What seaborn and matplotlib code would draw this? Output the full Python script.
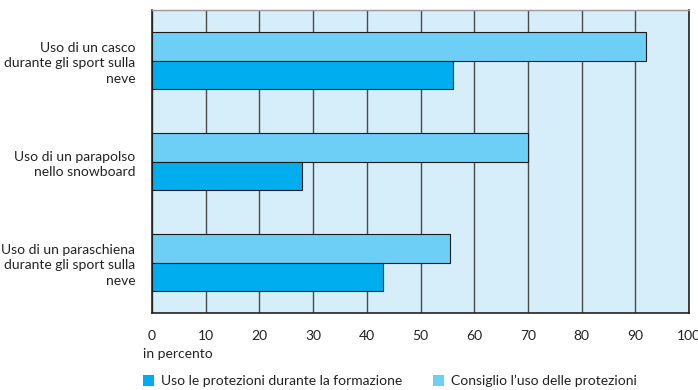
import matplotlib
matplotlib.use("Agg")
import matplotlib.pyplot as plt
import matplotlib.transforms as mtransforms
from matplotlib.patches import Patch
import seaborn as sns
import pandas as pd

categories = [
    "Uso di un casco\ndurante gli sport sulla\nneve",
    "Uso di un parapolso\nnello snowboard",
    "Uso di un paraschiena\ndurante gli sport sulla\nneve",
]
series_names = ["Uso le protezioni durante la formazione", "Consiglio l\u2019uso delle protezioni"]
uso_formazione = [56, 28, 43]
consiglio_uso = [92, 70, 55.5]
x_ticks = [0, 10, 20, 30, 40, 50, 60, 70, 80, 90, 100]
x_label = "in percento"

colors = {series_names[0]: "#00AEEF", series_names[1]: "#6DCFF6"}

df = pd.DataFrame({
    "categoria": categories * 2,
    "serie": [series_names[0]] * 3 + [series_names[1]] * 3,
    "valore": uso_formazione + consiglio_uso,
})

sns.set_style("white")
plt.rcParams["font.family"] = ["Lato", "DejaVu Sans"]
FS = 10

fig = plt.figure(figsize=(6.98, 3.9), dpi=100)
ax = fig.add_axes([152 / 698, 1 - 313 / 390, (689 - 152) / 698, (313 - 10) / 390])
ax.set_facecolor("#D6EDFA")

sns.barplot(
    data=df, y="categoria", x="valore", hue="serie",
    hue_order=[series_names[1], series_names[0]], palette=colors,
    saturation=1, orient="h", width=0.565, edgecolor="#1a1a1a", linewidth=0.8,
    legend=False, ax=ax, zorder=3,
)

ax.set_xlim(0, 100)
ax.set_ylim(2.5, -0.5)
ax.set_xticks(x_ticks)
ax.set_xticklabels([str(t) for t in x_ticks], fontsize=FS, color="#222222")
ax.xaxis.grid(True, color="#4a4a4a", linewidth=1.0, zorder=1)
ax.yaxis.grid(False)
ax.set_axisbelow(True)

# keep the last tick label inside the canvas
last = ax.get_xticklabels()[-1]
last.set_transform(last.get_transform() + mtransforms.ScaledTranslation(-3 / 100, 0, fig.dpi_scale_trans))

ax.set_yticks([0, 1, 2])
ax.set_yticklabels(categories, fontsize=FS, color="#222222", linespacing=1.35)
ax.tick_params(axis="y", length=0, pad=12)
ax.set_yticks([-0.5, 0.5, 1.5, 2.5], minor=True)
ax.tick_params(axis="y", which="minor", length=5, width=1, color="#333333", direction="out")
ax.tick_params(axis="x", length=5, width=1, color="#333333", direction="out", pad=7)

ax.set_xlabel("")
ax.set_ylabel("")
for side in ["left", "bottom", "right"]:
    ax.spines[side].set_visible(True)
    ax.spines[side].set_color("#222222")
    ax.spines[side].set_linewidth(1.2)
ax.spines["top"].set_visible(True)
ax.spines["top"].set_color("#9a9a9a")
ax.spines["top"].set_linewidth(1.0)

fig.text(143 / 698, 1 - 354 / 390, x_label, fontsize=FS, color="#222222", va="center", ha="left")

handles = [Patch(facecolor=colors[s], edgecolor="none") for s in series_names]
fig.legend(
    handles, series_names, loc="center left", bbox_to_anchor=(143 / 698, 1 - 381 / 390),
    ncol=2, frameon=False, fontsize=FS, handlelength=0.8, handleheight=0.8,
    handletextpad=0.5, columnspacing=2.2, labelcolor="#222222",
    borderpad=0, borderaxespad=0,
)

fig.savefig("out.png", dpi=100)
